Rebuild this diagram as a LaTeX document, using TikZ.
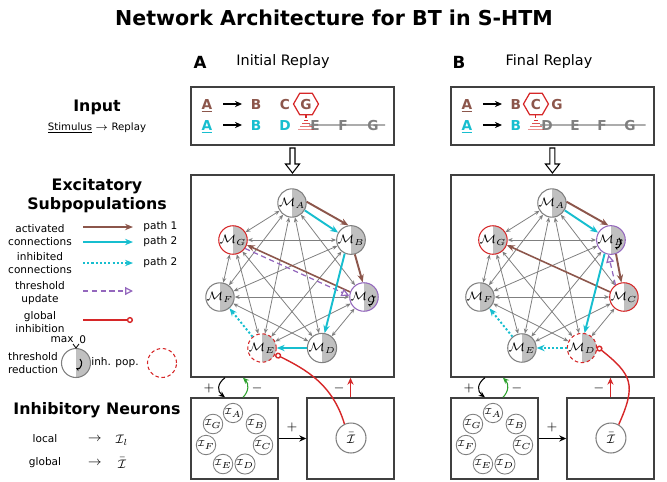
\documentclass[tikz,border=0pt]{standalone}
\usepackage{fontspec}
\setmainfont{DejaVu Sans}
\usetikzlibrary{arrows.meta,shapes.geometric,positioning}

\definecolor{pathone}{HTML}{8C564B}
\definecolor{pathtwo}{HTML}{17BECF}
\definecolor{thrcol}{HTML}{9467BD}
\definecolor{inhcol}{HTML}{D62728}
\definecolor{fbgreen}{HTML}{2CA02C}
\definecolor{popgray}{HTML}{7F7F7F}
\definecolor{popfill}{HTML}{C0C0C0}

% threshold reduction mark: node, dx, dy
\newcommand{\thrmark}[3]{\draw[thr] ([shift={(#2,#3)}]#1.center) .. controls +(4,3) and +(4,2) .. ([shift={(#2-4,#3+9)}]#1.center);}

\tikzset{
  box/.style={draw=black!75, line width=0.8pt, inner sep=0pt},
  pop/.style={circle, draw=popgray, line width=0.6pt, minimum size=0.56cm, inner sep=0pt,
    font=\fontsize{7}{8}\selectfont,
    path picture={\fill[popfill] (path picture bounding box.north) rectangle (path picture bounding box.south east);}},
  active/.style={draw=inhcol},
  lowered/.style={draw=thrcol},
  inhpop/.style={draw=inhcol, dash pattern=on 2pt off 1.5pt},
  lpop/.style={circle, draw=popgray, line width=0.5pt, minimum size=0.28cm, inner sep=0pt, font=\fontsize{4.5}{5}\selectfont},
  gpop/.style={circle, draw=popgray, line width=0.6pt, minimum size=0.6cm, inner sep=0pt, font=\fontsize{7}{8}\selectfont},
  link/.style={draw=popgray, line width=0.45pt, {Stealth[length=2.8pt,width=2.3pt]}-{Stealth[length=2.8pt,width=2.3pt]}},
  pone/.style={draw=pathone, line width=1.1pt, -{Stealth[length=4.5pt,width=3.6pt]}},
  ptwo/.style={draw=pathtwo, line width=1.1pt, -{Stealth[length=4.5pt,width=3.6pt]}},
  blocked/.style={draw=pathtwo, line width=1.1pt, dash pattern=on 1.2pt off 1.2pt, -{Stealth[length=4.5pt,width=3.6pt]}},
  thrupd/.style={draw=thrcol, line width=0.7pt, dash pattern=on 3pt off 2pt, -{Triangle[open,length=4.5pt,width=4.5pt]}},
  ginh/.style={draw=inhcol, line width=0.8pt, -{Circle[open,length=3.5pt]}},
  thr/.style={line width=0.6pt, -{Stealth[length=2pt,width=2pt]}},
  lbl/.style={font=\fontsize{6}{7.6}\selectfont, align=center, inner sep=0pt},
  head/.style={font=\bfseries\fontsize{9}{10.8}\selectfont, align=center},
  seq/.style={font=\bfseries\fontsize{7.8}{9}\selectfont, inner sep=0.5pt, anchor=base},
  hexa/.style={regular polygon, regular polygon sides=6, draw=inhcol, line width=0.7pt, minimum size=0.5cm, inner sep=0pt},
  sign/.style={font=\fontsize{7}{8}\selectfont},
  seqarr/.style={line width=0.7pt, -{Stealth[length=4pt,width=3.5pt]}, shorten <=0.19cm, shorten >=0.15cm},
}

\begin{document}
\begin{tikzpicture}[x=0.02cm, y=-0.02cm]
\useasboundingbox (0,0) rectangle (667,481);

\node[font=\bfseries\fontsize{11.7}{14}\selectfont] (title) at (334,18) {Network Architecture for BT in S-HTM};
\node[font=\bfseries\fontsize{9.5}{10}\selectfont] (labA) at (200,62) {A};
\node[font=\fontsize{8.2}{9}\selectfont] (nameA) at (283,62) {Initial Replay};
\node[font=\bfseries\fontsize{9.5}{10}\selectfont] (labB) at (459,62) {B};
\node[font=\fontsize{8.2}{9}\selectfont] (nameB) at (549,62) {Final Replay};

% legend column
\node[head] (hInput) at (97,107) {Input};
\node[font=\fontsize{5.8}{7}\selectfont] (stim) at (97,128) {\underline{Stimulus} $\rightarrow$ Replay};
\node[head] (hExc) at (97,196) {Excitatory\\Subpopulations};

\node[lbl] (lAct) at (40,235) {activated\\connections};
\node[lbl] (lInh) at (40,263) {inhibited\\connections};
\node[lbl] (lThr) at (40,293) {threshold\\update};
\node[lbl] (lGlo) at (40,322) {global\\inhibition};
\node[lbl, anchor=west] (lP1) at (143,227) {path 1};
\node[lbl, anchor=west] (lP2) at (143,242) {path 2};
\node[lbl, anchor=west] (lP2b) at (143,263) {path 2};
\coordinate (actOneS) at (83,227); \coordinate (actOneE) at (133,227);
\coordinate (actTwoS) at (83,242); \coordinate (actTwoE) at (133,242);
\coordinate (blkS) at (83,263); \coordinate (blkE) at (133,263);
\coordinate (updS) at (83,291); \coordinate (updE) at (133,291);
\coordinate (ginS) at (83,320); \coordinate (ginE) at (133,320);
\draw[pone] (actOneS) -- (actOneE);
\draw[ptwo] (actTwoS) -- (actTwoE);
\draw[blocked] (blkS) -- (blkE);
\draw[thrupd] (updS) -- (updE);
\draw[ginh] (ginS) -- (ginE);

\node[pop, minimum size=0.58cm] (lRed) at (76,363) {};
\thrmark{lRed}{4}{-4}
\node[lbl, anchor=east] (lMax) at (74,340) {max};
\node[lbl, anchor=west] (lZero) at (79,340) {0};
\draw[line width=0.5pt] (73,344) -- (lRed.north) -- (79,344);
\node[lbl] (lRedTxt) at (33,363) {threshold\\reduction};
\node[lbl] (lPopTxt) at (115,363) {inh. pop.};
\node[circle, draw=inhcol, dash pattern=on 2pt off 1.5pt, line width=0.6pt, minimum size=0.58cm] (lInhPop) at (162,363) {};

\node[head] (hInhN) at (97,410) {Inhibitory Neurons};
\node[lbl] (lLoc) at (45,439) {local};
\node[sign] (lLocArr) at (95,439) {$\rightarrow$};
\node[sign] (lLocSym) at (122,440) {$\mathcal{I}_l$};
\node[lbl] (lGl) at (45,463) {global};
\node[sign] (lGlArr) at (95,463) {$\rightarrow$};
\node[sign] (lGlSym) at (122,463) {$\bar{\mathcal{I}}$};

% common frame of both panels
\foreach \p/\dx in {a/0cm,b/5.2cm}{
  \begin{scope}[xshift=\dx]
    \node[box, minimum width=4.06cm, minimum height=1.16cm] (\p In) at (292.5,116) {};
    \node[box, minimum width=4.06cm, minimum height=4.04cm] (\p Exc) at (292.5,276) {};
    \node[box, minimum width=1.74cm, minimum height=1.62cm] (\p Loc) at (234.5,438.5) {};
    \node[box, minimum width=1.74cm, minimum height=1.62cm] (\p Glo) at (350.5,438.5) {};
    \draw[line width=0.6pt, fill=white] (290,148) -- (295,148) -- (295,164) -- (299.5,164)
      -- (292.5,173) -- (285.5,164) -- (290,164) -- cycle;
    % local inhibitory neurons
    \node[lpop] (\p IA) at (233,413) {$\mathcal{I}_A$};
    \node[lpop] (\p IB) at (256,424) {$\mathcal{I}_B$};
    \node[lpop] (\p IC) at (263,445) {$\mathcal{I}_C$};
    \node[lpop] (\p ID) at (245,464) {$\mathcal{I}_D$};
    \node[lpop] (\p IE) at (223,464) {$\mathcal{I}_E$};
    \node[lpop] (\p IF) at (206,445) {$\mathcal{I}_F$};
    \node[lpop] (\p IG) at (213,424) {$\mathcal{I}_G$};
    \node[gpop] (\p Ibar) at (351,438) {$\bar{\mathcal{I}}$};
    \draw[line width=0.7pt, -{Stealth[length=4pt,width=3.5pt]}] (\p Loc) -- (\p Glo);
    \draw[line width=0.6pt, -{Stealth[length=3.5pt,width=3pt]}] ([xshift=-1.35cm]\p Exc.south)
      .. controls +(-8,6) and +(-8,-6) .. ([xshift=-0.19cm]\p Loc.north);
    \draw[fbgreen, line width=0.6pt, -{Stealth[length=3.5pt,width=3pt]}] ([xshift=0.17cm]\p Loc.north)
      .. controls +(6,-6) and +(6,6) .. ([xshift=-0.99cm]\p Exc.south);
    \draw[inhcol, line width=0.7pt, -{Stealth[length=4pt,width=3.5pt]}] (\p Glo.north) -- (\p Glo.north |- \p Exc.south);
    \node[sign] (\p PlusA) at (209,388) {$+$};
    \node[sign] (\p MinusA) at (257,388) {$-$};
    \node[sign] (\p MinusB) at (339,388) {$-$};
    \node[sign] (\p PlusB) at (292,427) {$+$};
  \end{scope}
}

% panel A: initial replay
\node[seq, text=pathone] (aA1) at (207,109) {\underline{A}};
\node[seq, text=pathone] (aB1) at (256,109) {B};
\node[seq, text=pathone] (aC1) at (285,109) {C};
\node[seq, text=pathone, hexa] (aG1) at (306,109) {G};
\node[seq, text=pathtwo] (aA2) at (207,130) {\underline{A}};
\node[seq, text=pathtwo] (aB2) at (256,130) {B};
\node[seq, text=pathtwo] (aD2) at (285,130) {D};
\node[seq, text=popgray] (aE2) at (315,130) {E};
\node[seq, text=popgray] (aF2) at (343,130) {F};
\node[seq, text=popgray] (aG2) at (373,130) {G};
\draw[seqarr] (aA1.east |- aB1.west) -- (aB1.west);
\draw[seqarr] (aA2.east |- aB2.west) -- (aB2.west);
\draw[popgray, line width=0.7pt] (aE2.west) -- ([xshift=3pt]aG2.east);
\draw[inhcol, line width=0.6pt] (aG1.south) -- ++(0,3);
\foreach \k/\o in {1/0.95,2/0.8,3/0.65,4/0.5}
  \draw[inhcol, line width=0.8pt, opacity=\o] ([shift={(-2*\k,3*\k+2)}]aG1.south) -- ++(4*\k,0);

\node[pop] (aA) at (292,203) {$\mathcal{M}_A$};
\node[pop] (aB) at (351,240) {$\mathcal{M}_B$};
\node[pop, lowered] (aC) at (364,297) {$\mathcal{M}_C$};
\node[pop] (aD) at (322,348) {$\mathcal{M}_D$};
\node[pop, inhpop] (aE) at (262,348) {$\mathcal{M}_E$};
\node[pop] (aF) at (220,297) {$\mathcal{M}_F$};
\node[pop, active] (aG) at (233,240) {$\mathcal{M}_G$};
\thrmark{aC}{8}{-2}

% panel B: final replay
\begin{scope}[xshift=5.2cm]
\node[seq, text=pathone] (bA1) at (207,109) {\underline{A}};
\node[seq, text=pathone] (bB1) at (256,109) {B};
\node[seq, text=pathone, hexa] (bC1) at (276,109) {C};
\node[seq, text=pathone] (bG1) at (297,109) {G};
\node[seq, text=pathtwo] (bA2) at (207,130) {\underline{A}};
\node[seq, text=pathtwo] (bB2) at (256,130) {B};
\node[seq, text=popgray] (bD2) at (287,130) {D};
\node[seq, text=popgray] (bE2) at (315,130) {E};
\node[seq, text=popgray] (bF2) at (342,130) {F};
\node[seq, text=popgray] (bG2) at (370,130) {G};
\draw[seqarr] (bA1.east |- bB1.west) -- (bB1.west);
\draw[seqarr] (bA2.east |- bB2.west) -- (bB2.west);
\draw[popgray, line width=0.7pt] (bD2.west) -- ([xshift=5pt]bG2.east);
\draw[inhcol, line width=0.6pt] (bC1.south) -- ++(0,3);
\foreach \k/\o in {1/0.95,2/0.8,3/0.65,4/0.5}
  \draw[inhcol, line width=0.8pt, opacity=\o] ([shift={(-2*\k,3*\k+2)}]bC1.south) -- ++(4*\k,0);

\node[pop] (bA) at (292,203) {$\mathcal{M}_A$};
\node[pop, lowered] (bB) at (351,240) {$\mathcal{M}_B$};
\node[pop, active] (bC) at (364,297) {$\mathcal{M}_C$};
\node[pop, inhpop] (bD) at (322,348) {$\mathcal{M}_D$};
\node[pop] (bE) at (262,348) {$\mathcal{M}_E$};
\node[pop] (bF) at (220,297) {$\mathcal{M}_F$};
\node[pop, active] (bG) at (233,240) {$\mathcal{M}_G$};
\thrmark{bB}{8}{-2}
\end{scope}

% all-to-all excitatory connections
\foreach \p in {a,b}
  \foreach \s/\t in {A/C,A/D,A/E,A/F,A/G,B/E,B/F,B/G,C/D,C/E,C/F,D/F,D/G,E/G,F/G}
    \draw[link] (\p\s) -- (\p\t);

% replay paths A
\draw[pone] (aA.5) -- (aB.100);
\draw[ptwo] (aA.-30) -- (aB.150);
\draw[pone] (aB.-75) -- (aC.95);
\draw[pone, line width=0.9pt] (aC.160) -- (aG.-20);
\draw[thrupd] (aG.-35) -- (aC.175);
\draw[ptwo] (aB.-115) -- (aD.80);
\draw[ptwo] (aD.west) -- (aE.east);
\draw[blocked] (aE.130) -- (aF.-50);
\draw[ginh] (aIbar.115) .. controls +(-12,-40) and +(30,15) .. (aE.-25);

% replay paths B
\draw[pone] (bA.5) -- (bB.100);
\draw[ptwo] (bA.-30) -- (bB.150);
\draw[pone] (bB.-70) -- (bC.100);
\draw[pone, line width=0.9pt] (bC.160) -- (bG.-20);
\draw[thrupd] (bC.125) -- (bB.-100);
\draw[ptwo] (bB.-115) -- (bD.80);
\draw[blocked] (bD.west) -- (bE.east);
\draw[blocked] (bE.130) -- (bF.-50);
\draw[ginh] (bIbar.60) .. controls +(18,-40) and +(35,28) .. (bD.5);
\end{tikzpicture}
\end{document}
